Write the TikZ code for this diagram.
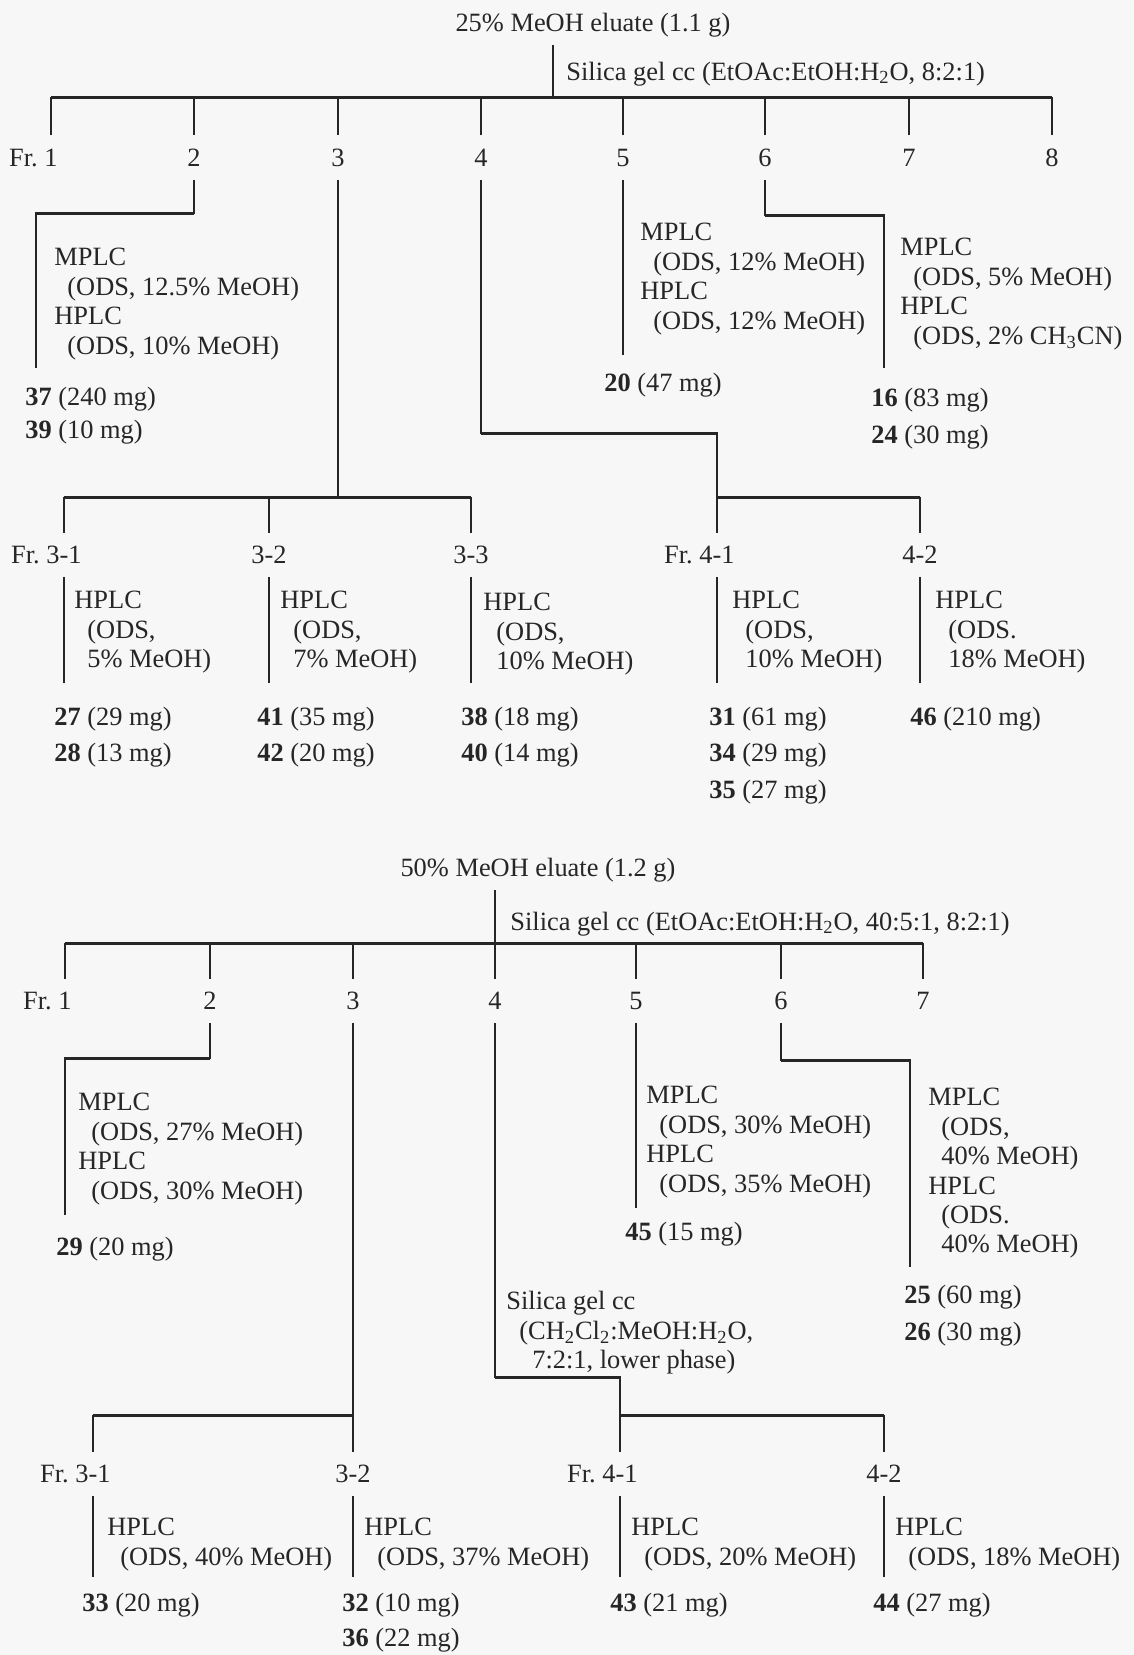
\documentclass[tikz,border=0pt]{standalone}
\usepackage{fontspec}
\setmainfont{Liberation Serif}
\usetikzlibrary{calc}

\tikzset{
  stem/.style={line width=0.75pt},
  bar/.style={line width=1.5pt},
  frac/.style={inner sep=0pt,minimum height=22pt},
  lbl/.style={inner sep=0pt,anchor=base west},
  blk/.style={inner sep=0pt,anchor=north west,align=left},
}
\newcommand{\ind}{\hspace*{6.5pt}}

\begin{document}
\begin{tikzpicture}[x=0.5pt,y=-0.5pt,color=black!85,font=\fontsize{13.2}{14.7}\selectfont]
\fill[black!3] (0,0) rectangle (1134,1655);
\useasboundingbox (0,0) rectangle (1134,1655);

% 25% MeOH eluate
\node[inner sep=0pt,minimum height=20pt] (aroot) at (593,25) {25\% MeOH eluate (1.1 g)};
\coordinate (abar) at (553,97);
\draw[stem] (aroot.south -| abar) -- (abar);
\node[lbl] (asil) at (566,80) {Silica gel cc (EtOAc:EtOH:H\textsubscript{2}O, 8:2:1)};
\foreach \x/\n/\lab in {51/1/{\llap{Fr.~}1},194/2/2,338/3/3,481/4/4,623/5/5,765/6/6,909/7/7,1052/8/8}
  \node[frac] (a\n) at (\x,157.5) {\lab};
\draw[bar] (a1.north |- abar) -- (a8.north |- abar);
\foreach \n in {1,...,8}
  \draw[stem] (a\n.north) -- (a\n.north |- abar);

% Fr. 2
\coordinate (ak2) at (36,213);
\coordinate (ae2) at (36,368);
\draw[stem] (a2.south) |- (ak2) -- (ae2);
\draw[bar] (a2.south |- ak2) -- (ak2);
\node[blk] (am2) at (54,248) {MPLC\\\ind(ODS, 12.5\% MeOH)\\HPLC\\\ind(ODS, 10\% MeOH)};
\node[lbl] (p37) at (25,405) {\textbf{37} (240 mg)};
\node[lbl] (p39) at (25,438) {\textbf{39} (10 mg)};

% Fr. 5
\coordinate (ae5) at (623,355);
\draw[stem] (a5.south) -- (ae5);
\node[blk] (am5) at (640,223) {MPLC\\\ind(ODS, 12\% MeOH)\\HPLC\\\ind(ODS, 12\% MeOH)};
\node[lbl] (p20) at (604,391) {\textbf{20} (47 mg)};

% Fr. 6
\coordinate (ak6) at (884,215);
\coordinate (ae6) at (884,368);
\draw[stem] (a6.south) |- (ak6) -- (ae6);
\draw[bar] (a6.south |- ak6) -- (ak6);
\node[blk] (am6) at (900,238) {MPLC\\\ind(ODS, 5\% MeOH)\\HPLC\\\ind(ODS, 2\% CH\textsubscript{3}CN)};
\node[lbl] (p16) at (871,406) {\textbf{16} (83 mg)};
\node[lbl] (p24) at (871,443) {\textbf{24} (30 mg)};

% Fr. 3 and Fr. 4
\coordinate (asub) at (0,497);
\coordinate (alow) at (0,683);
\coordinate (ak4) at (481,433);
\foreach \x/\n/\lab in {64/31/{\llap{Fr.~}3-1},269/32/3-2,471/33/3-3,717/41/{\llap{Fr.~}4-1},920/42/4-2}
  \node[frac] (a\n) at (\x,555) {\lab};
\draw[stem] (a3.south) -- (a3.south |- asub);
\draw[stem] (a4.south) -- (ak4) -| (a41.north |- asub);
\draw[bar] (ak4) -- (ak4 -| a41);
\draw[bar] (a31.north |- asub) -- (a33.north |- asub);
\draw[bar] (a41.north |- asub) -- (a42.north |- asub);
\foreach \n in {31,32,33,41,42}{
  \draw[stem] (a\n.north) -- (a\n.north |- asub);
  \draw[stem] (a\n.south) -- (a\n.south |- alow);
}
\node[blk] (ah31) at (74,591) {HPLC\\\ind(ODS,\\\ind5\% MeOH)};
\node[blk] (ah32) at (280,591) {HPLC\\\ind(ODS,\\\ind7\% MeOH)};
\node[blk] (ah33) at (483,593) {HPLC\\\ind(ODS,\\\ind10\% MeOH)};
\node[blk] (ah41) at (732,591) {HPLC\\\ind(ODS,\\\ind10\% MeOH)};
\node[blk] (ah42) at (935,591) {HPLC\\\ind(ODS.\\\ind18\% MeOH)};
\node[lbl] (p27) at (54,725) {\textbf{27} (29 mg)};
\node[lbl] (p28) at (54,761) {\textbf{28} (13 mg)};
\node[lbl] (p41) at (257,725) {\textbf{41} (35 mg)};
\node[lbl] (p42) at (257,761) {\textbf{42} (20 mg)};
\node[lbl] (p38) at (461,725) {\textbf{38} (18 mg)};
\node[lbl] (p40) at (461,761) {\textbf{40} (14 mg)};
\node[lbl] (p31) at (709,725) {\textbf{31} (61 mg)};
\node[lbl] (p34) at (709,761) {\textbf{34} (29 mg)};
\node[lbl] (p35) at (709,798) {\textbf{35} (27 mg)};
\node[lbl] (p46) at (910,725) {\textbf{46} (210 mg)};

% 50% MeOH eluate
\node[inner sep=0pt,minimum height=20pt] (broot) at (538,870) {50\% MeOH eluate (1.2 g)};
\coordinate (bbar) at (495,943);
\draw[stem] (broot.south -| bbar) -- (bbar);
\node[lbl] (bsil) at (510,930) {Silica gel cc (EtOAc:EtOH:H\textsubscript{2}O, 40:5:1, 8:2:1)};
\foreach \x/\n/\lab in {65/1/{\llap{Fr.~}1},210/2/2,353/3/3,495/4/4,636/5/5,781/6/6,923/7/7}
  \node[frac] (b\n) at (\x,1001) {\lab};
\draw[bar] (b1.north |- bbar) -- (b7.north |- bbar);
\foreach \n in {1,...,7}
  \draw[stem] (b\n.north) -- (b\n.north |- bbar);

% Fr. 2
\coordinate (bk2) at (65,1058);
\coordinate (be2) at (65,1215);
\draw[stem] (b2.south) |- (bk2) -- (be2);
\draw[bar] (b2.south |- bk2) -- (bk2);
\node[blk] (bm2) at (78,1093) {MPLC\\\ind(ODS, 27\% MeOH)\\HPLC\\\ind(ODS, 30\% MeOH)};
\node[lbl] (p29) at (56,1255) {\textbf{29} (20 mg)};

% Fr. 5
\coordinate (be5) at (636,1208);
\draw[stem] (b5.south) -- (be5);
\node[blk] (bm5) at (646,1086) {MPLC\\\ind(ODS, 30\% MeOH)\\HPLC\\\ind(ODS, 35\% MeOH)};
\node[lbl] (p45) at (625,1240) {\textbf{45} (15 mg)};

% Fr. 6
\coordinate (bk6) at (910,1060);
\coordinate (be6) at (910,1267);
\draw[stem] (b6.south) |- (bk6) -- (be6);
\draw[bar] (b6.south |- bk6) -- (bk6);
\node[blk] (bm6) at (928,1088) {MPLC\\\ind(ODS,\\\ind40\% MeOH)\\HPLC\\\ind(ODS.\\\ind40\% MeOH)};
\node[lbl] (p25) at (904,1303) {\textbf{25} (60 mg)};
\node[lbl] (p26) at (904,1340) {\textbf{26} (30 mg)};

% Fr. 3 and Fr. 4
\coordinate (bsub) at (0,1415);
\coordinate (blow) at (0,1577);
\coordinate (bk4) at (495,1377);
\foreach \x/\n/\lab in {93/31/{\llap{Fr.~}3-1},353/32/3-2,620/41/{\llap{Fr.~}4-1},884/42/4-2}
  \node[frac] (b\n) at (\x,1474) {\lab};
\draw[stem] (b3.south) -- (b32.north);
\draw[stem] (b4.south) -- (bk4) -| (b41.north);
\draw[bar] (bk4) -- (bk4 -| b41);
\node[blk] (bsil2) at (506,1291) {Silica gel cc\\\ind(CH\textsubscript{2}Cl\textsubscript{2}:MeOH:H\textsubscript{2}O,\\\ind\ind7:2:1, lower phase)};
\draw[bar] (b31.north |- bsub) -- (b32.north |- bsub);
\draw[bar] (b41.north |- bsub) -- (b42.north |- bsub);
\foreach \n in {31,32,41,42}{
  \draw[stem] (b\n.north) -- (b\n.north |- bsub);
  \draw[stem] (b\n.south) -- (b\n.south |- blow);
}
\node[blk] (bh31) at (107,1518) {HPLC\\\ind(ODS, 40\% MeOH)};
\node[blk] (bh32) at (364,1518) {HPLC\\\ind(ODS, 37\% MeOH)};
\node[blk] (bh41) at (631,1518) {HPLC\\\ind(ODS, 20\% MeOH)};
\node[blk] (bh42) at (895,1518) {HPLC\\\ind(ODS, 18\% MeOH)};
\node[lbl] (p33) at (82,1611) {\textbf{33} (20 mg)};
\node[lbl] (p32) at (342,1611) {\textbf{32} (10 mg)};
\node[lbl] (p36) at (342,1646) {\textbf{36} (22 mg)};
\node[lbl] (p43) at (610,1611) {\textbf{43} (21 mg)};
\node[lbl] (p44) at (873,1611) {\textbf{44} (27 mg)};
\end{tikzpicture}
\end{document}
